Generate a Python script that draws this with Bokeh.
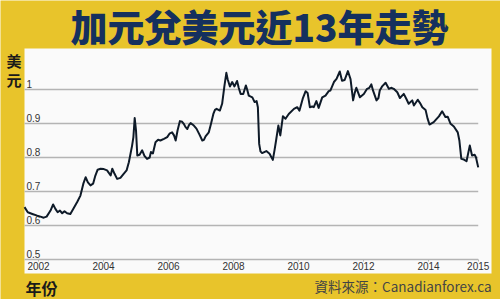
from bokeh.plotting import figure
from bokeh.models import LinearAxis, FixedTicker, PrintfTickFormatter, Label, Range1d, BoxAnnotation
from bokeh.core.properties import value
from bokeh.embed import file_html
from bokeh.resources import INLINE

# ---- data ----
years = [2001.57, 2001.67, 2001.81, 2001.96, 2002.06, 2002.16, 2002.25, 2002.37, 2002.45, 2002.52,
         2002.59, 2002.66, 2002.73, 2002.80, 2002.88, 2002.98, 2003.09, 2003.19, 2003.29, 2003.38,
         2003.45, 2003.52, 2003.60, 2003.68, 2003.75, 2003.82, 2003.91, 2004.01, 2004.11, 2004.22,
         2004.27, 2004.34, 2004.42, 2004.52, 2004.62, 2004.71, 2004.78, 2004.88, 2004.92, 2004.96,
         2005.00, 2005.04, 2005.11, 2005.19, 2005.26, 2005.34, 2005.42, 2005.46, 2005.52, 2005.60,
         2005.68, 2005.75, 2005.86, 2005.96, 2006.03, 2006.11, 2006.17, 2006.22, 2006.28, 2006.35,
         2006.42, 2006.47, 2006.52, 2006.58, 2006.63, 2006.68, 2006.78, 2006.86, 2006.95, 2007.04,
         2007.09, 2007.14, 2007.24, 2007.31, 2007.38, 2007.43, 2007.48, 2007.58, 2007.65, 2007.72,
         2007.78, 2007.82, 2007.89, 2007.96, 2008.03, 2008.11, 2008.16, 2008.22, 2008.30, 2008.38,
         2008.42, 2008.47, 2008.58, 2008.65, 2008.71, 2008.75, 2008.79, 2008.83, 2008.88, 2009.01,
         2009.11, 2009.21, 2009.26, 2009.31, 2009.38, 2009.44, 2009.52, 2009.60, 2009.70, 2009.86,
         2009.96, 2010.03, 2010.13, 2010.22, 2010.28, 2010.35, 2010.42, 2010.47, 2010.55, 2010.62,
         2010.73, 2010.83, 2010.93, 2010.98, 2011.09, 2011.17, 2011.27, 2011.34, 2011.42, 2011.52,
         2011.60, 2011.68, 2011.73, 2011.78, 2011.89, 2012.01, 2012.11, 2012.18, 2012.24, 2012.30,
         2012.40, 2012.46, 2012.50, 2012.58, 2012.68, 2012.78, 2012.85, 2012.93, 2013.04, 2013.12,
         2013.24, 2013.32, 2013.39, 2013.50, 2013.55, 2013.67, 2013.74, 2013.81, 2013.91, 2013.97,
         2014.03, 2014.16, 2014.32, 2014.42, 2014.52, 2014.59, 2014.68, 2014.78, 2014.90, 2014.95,
         2015.01, 2015.09, 2015.17, 2015.27, 2015.34, 2015.42, 2015.46, 2015.53]
cad_usd = [0.654, 0.639, 0.634, 0.629, 0.626, 0.623, 0.626, 0.644, 0.662, 0.649,
           0.639, 0.644, 0.636, 0.642, 0.636, 0.634, 0.652, 0.669, 0.688, 0.723,
           0.742, 0.727, 0.718, 0.723, 0.747, 0.764, 0.767, 0.766, 0.762, 0.747,
           0.767, 0.752, 0.737, 0.740, 0.752, 0.762, 0.786, 0.835, 0.860, 0.916,
           0.880, 0.806, 0.808, 0.821, 0.805, 0.796, 0.800, 0.816, 0.812, 0.845,
           0.852, 0.850, 0.855, 0.860, 0.870, 0.874, 0.865, 0.850, 0.880, 0.907,
           0.905, 0.899, 0.890, 0.884, 0.895, 0.901, 0.894, 0.885, 0.868, 0.850,
           0.852, 0.862, 0.874, 0.900, 0.928, 0.940, 0.943, 0.938, 0.958, 1.010,
           1.049, 1.030, 1.009, 1.022, 1.009, 1.025, 1.005, 0.987, 0.987, 1.012,
           1.000, 0.982, 0.977, 0.963, 0.966, 0.948, 0.840, 0.818, 0.813, 0.819,
           0.811, 0.793, 0.820, 0.850, 0.894, 0.865, 0.921, 0.914, 0.928, 0.943,
           0.948, 0.938, 0.973, 0.995, 0.990, 0.948, 0.950, 0.948, 0.966, 0.946,
           0.977, 0.982, 0.995, 0.997, 1.022, 1.031, 1.053, 1.026, 1.028, 1.054,
           1.031, 0.968, 0.990, 1.005, 0.977, 0.987, 1.002, 1.005, 1.015, 0.995,
           0.968, 0.975, 0.997, 1.010, 1.020, 1.002, 1.005, 1.002, 0.992, 0.975,
           0.987, 0.972, 0.958, 0.968, 0.953, 0.970, 0.960, 0.948, 0.940, 0.915,
           0.897, 0.904, 0.921, 0.936, 0.919, 0.920, 0.899, 0.891, 0.874, 0.850,
           0.796, 0.794, 0.789, 0.835, 0.806, 0.808, 0.801, 0.771]

y_ticks = [0.5, 0.6, 0.7, 0.8, 0.9, 1.0]
y_tick_labels = ["0.5", "0.6", "0.7", "0.8", "0.9", "1"]
x_tick_years = [2002, 2004, 2006, 2008, 2010, 2012, 2014]

title_text = "加元兌美元近13年走勢"
y_label_text = "美\n元"
x_label_text = "年份"
source_text = "資料來源：Canadianforex.ca"

# ---- styling ----
YELLOW = "#E8C42B"
NAVY = "#15305E"
LINE = "#0E1A28"
GRID = "#B4B4B4"
W, H = 500, 299

# the frame fills the whole canvas; the white chart panel is an underlay box
p = figure(width=W, height=H, output_backend="svg", toolbar_location=None,
           x_axis_location=None, y_axis_location=None,
           x_range=Range1d(2000.8308, 2016.2154), y_range=Range1d(0.38235, 1.26176),
           min_border=0)
p.border_fill_color = YELLOW
p.background_fill_color = YELLOW
p.outline_line_color = None
p.xgrid.visible = False
p.ygrid.visible = False

panel = BoxAnnotation(left=24, right=491, top=H - 48, bottom=H - 273,
                      left_units="screen", right_units="screen",
                      top_units="screen", bottom_units="screen",
                      fill_color="#FAFAFA", fill_alpha=1.0, line_color=None, level="underlay")
p.add_layout(panel)

# horizontal grid lines, spanning the data range
p.segment(x0=[years[0]] * len(y_ticks), x1=[years[-1]] * len(y_ticks),
          y0=y_ticks, y1=y_ticks, line_color=GRID, line_width=1.3)

# y tick labels drawn inside the panel, above their grid lines
p.text(x=[years[0]] * len(y_ticks), y=y_ticks, text=y_tick_labels,
       text_font=value("Liberation Sans"), text_font_size="10px", text_color="#333333",
       text_baseline="bottom", text_align="left", x_offset=2, y_offset=-1)

# the series
p.line(years, cad_usd, line_color=LINE, line_width=2.0, line_join="round")

# x axis placed on the 0.5 line
xaxis = LinearAxis(fixed_location=y_ticks[0],
                   ticker=FixedTicker(ticks=x_tick_years + [years[-1]]),
                   formatter=PrintfTickFormatter(format="%d"),
                   bounds=(years[0], years[-1]))
xaxis.axis_line_color = None
xaxis.major_tick_line_color = GRID
xaxis.major_tick_in = 0
xaxis.major_tick_out = 2
xaxis.minor_tick_line_color = None
xaxis.major_label_standoff = 1
xaxis.major_label_text_font = "Liberation Sans"
xaxis.major_label_text_font_size = "10px"
xaxis.major_label_text_color = "#333333"
p.add_layout(xaxis, "below")

# texts around the panel (screen units, origin at bottom-left of the canvas)
p.add_layout(Label(x=259, y=H - 25, x_units="screen", y_units="screen", text=title_text,
                   text_font="'Noto Sans CJK TC Black', 'Noto Sans CJK TC'",
                   text_font_style="bold", text_font_size="37px",
                   text_color=NAVY, text_align="center", text_baseline="middle"))
p.add_layout(Label(x=13.5, y=H - 49, x_units="screen", y_units="screen", text=y_label_text,
                   text_font="Noto Sans CJK TC", text_font_style="bold", text_font_size="15px",
                   text_color="#1A1A1A", text_align="center", text_baseline="top",
                   text_line_height=0.95))
p.add_layout(Label(x=25, y=H - 287, x_units="screen", y_units="screen", text=x_label_text,
                   text_font="Noto Sans CJK TC", text_font_style="bold", text_font_size="16px",
                   text_color="#1A1A1A", text_align="left", text_baseline="middle"))
p.add_layout(Label(x=491, y=H - 285, x_units="screen", y_units="screen", text=source_text,
                   text_font="Noto Sans CJK TC", text_font_size="13.5px",
                   text_color="#444444", text_align="right", text_baseline="middle"))

open("out.html", "w").write(file_html(p, INLINE))
